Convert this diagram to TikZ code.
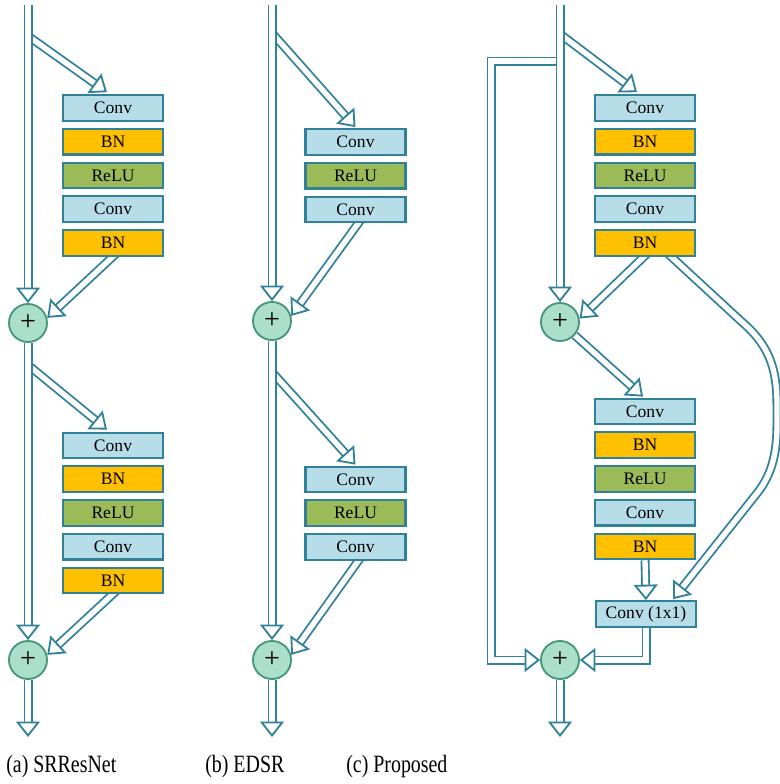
\documentclass[tikz,border=0pt]{standalone}
\usepackage{fontspec}
\setmainfont{Liberation Serif}
\newfontfamily\capfont{Liberation Serif}[FakeStretch=0.8]
\usetikzlibrary{arrows.meta,positioning,calc,backgrounds}
\definecolor{lnteal}{RGB}{49,130,153}
\definecolor{convblue}{RGB}{183,222,232}
\definecolor{bnorange}{RGB}{255,192,0}
\definecolor{relugreen}{RGB}{155,187,89}
\definecolor{plusfill}{RGB}{172,222,204}
\definecolor{plusline}{RGB}{68,150,118}
\tikzset{
  layer/.style={draw=lnteal,line width=1.5pt,minimum width=2.5cm,minimum height=0.64cm,inner sep=0pt,font=\fontsize{12.5}{14}\selectfont},
  conv/.style={layer,fill=convblue},
  bn/.style={layer,fill=bnorange},
  relu/.style={layer,fill=relugreen},
  adder/.style={circle,draw=plusline,fill=plusfill,line width=1.3pt,minimum size=0.95cm,inner sep=0pt,font=\fontsize{20}{20}\selectfont},
  flow/.style={draw=lnteal,line width=1.3pt,double=white,double distance=3.8pt},
  flowarr/.style={flow,-{Triangle[open,length=11pt,width=17pt,line width=1.3pt]}},
  figlabel/.style={anchor=base west,inner sep=0pt,font=\capfont\fontsize{17.7}{20}\selectfont}
}
\begin{document}
\begin{tikzpicture}[x=0.025cm,y=-0.025cm,node distance=0.15cm,line join=miter]
\useasboundingbox (0,0) rectangle (780,784);
% (a) SRResNet
\node[adder] (a1) at (28,323) {+};
\node[adder] (a2) at (28,660) {+};
\node[conv] (ac1) at (113,108) {Conv};
\node[bn,below=of ac1] (ab1) {BN};
\node[relu,below=of ab1] (ar1) {ReLU};
\node[conv,below=of ar1] (ac2) {Conv};
\node[bn,below=of ac2] (ab2) {BN};
\node[conv] (ac3) at (113,445.5) {Conv};
\node[bn,below=of ac3] (ab3) {BN};
\node[relu,below=of ab3] (ar2) {ReLU};
\node[conv,below=of ar2] (ac4) {Conv};
\node[bn,below=of ac4] (ab4) {BN};
\coordinate (atop) at (28,5);
\coordinate (abot) at (28,737);
\coordinate (asplit1) at (28,36);
\coordinate (asplit2) at (28,365);
% (b) EDSR
\node[adder] (b1) at (272,321) {+};
\node[adder] (b2) at (272,660) {+};
\node[conv] (bc1) at (355.5,142) {Conv};
\node[relu,below=of bc1] (br1) {ReLU};
\node[conv,below=of br1] (bc2) {Conv};
\node[conv] (bc3) at (355.5,479.5) {Conv};
\node[relu,below=of bc3] (br2) {ReLU};
\node[conv,below=of br2] (bc4) {Conv};
\coordinate (btop) at (272,5);
\coordinate (bbot) at (272,737);
\coordinate (bsplit1) at (272,33);
\coordinate (bsplit2) at (272,372);
% (c) Proposed
\node[adder] (c1) at (560,322) {+};
\node[adder] (c2) at (560,660) {+};
\node[conv] (cc1) at (645,108) {Conv};
\node[bn,below=of cc1] (cb1) {BN};
\node[relu,below=of cb1] (cr1) {ReLU};
\node[conv,below=of cr1] (cc2) {Conv};
\node[bn,below=of cc2] (cb2) {BN};
\node[conv] (cc3) at (645,411.5) {Conv};
\node[bn,below=of cc3] (cb3) {BN};
\node[relu,below=of cb3] (cr2) {ReLU};
\node[conv,below=of cr2] (cc4) {Conv};
\node[bn,below=of cc4] (cb4) {BN};
\node[conv] (cpw) at (646,614) {Conv (1x1)};
\coordinate (ctop) at (560,5);
\coordinate (cbot) at (560,737);
\coordinate (csplit) at (560,34);
\coordinate (cskip) at (560,61);
\begin{scope}[on background layer]
  % branches into the blocks
  \draw[flowarr] (asplit1) -- ($(ac1.north)+(-6,-2)$);
  \draw[flowarr] (asplit2) -- ($(ac3.north)+(-6,-2)$);
  \draw[flowarr] (bsplit1) -- ($(bc1.north)+(0,-1)$);
  \draw[flowarr] (bsplit2) -- ($(bc3.north)+(0,-1)$);
  \draw[flowarr] (csplit) -- ($(cc1.north)+(-8,-2)$);
  \draw[flowarr] (c1) -- ($(cc3.north)+(-2,-1)$);
  \draw[flowarr] (cskip) -- (491,61) -- (491,660) -- (c2);
  % block outputs
  \draw[flowarr] ($(ab2.south)+(3,-3)$) -- (a1.15);
  \draw[flowarr] ($(ab4.south)+(3,-3)$) -- (a2.15);
  \draw[flowarr] ($(bc2.south)+(5,-3)$) -- (b1.15);
  \draw[flowarr] ($(bc4.south)+(5,-3)$) -- (b2.15);
  \draw[flowarr] ($(cb2.south)+(2,-3)$) -- (c1.10);
  \draw[flowarr] ($(cb2.south)+(23,-3)$) -- (742,322) .. controls (770,346) and (777,370) .. (777,405)
    -- (777,425) .. controls (777,455) and (771,475) .. (758,492) -- ($(cpw.north)+(27,-1)$);
  \draw[flowarr] (cb4.south) -- (cpw.north);
  \draw[flowarr] (cpw.south) -- (cpw.south |- c2) -- (c2);
  % main lines
  \draw[flowarr] (atop) -- (a1);
  \draw[flowarr] (a1) -- (a2);
  \draw[flowarr] (a2) -- (abot);
  \draw[flowarr] (btop) -- (b1);
  \draw[flowarr] (b1) -- (b2);
  \draw[flowarr] (b2) -- (bbot);
  \draw[flowarr] (ctop) -- (c1);
  \draw[flowarr] (c2) -- (cbot);
\end{scope}
\node[figlabel] (alab) at (6,772) {(a) SRResNet};
\node[figlabel] (blab) at (205,772) {(b) EDSR};
\node[figlabel] (clab) at (346,772) {(c) Proposed};
\end{tikzpicture}
\end{document}
